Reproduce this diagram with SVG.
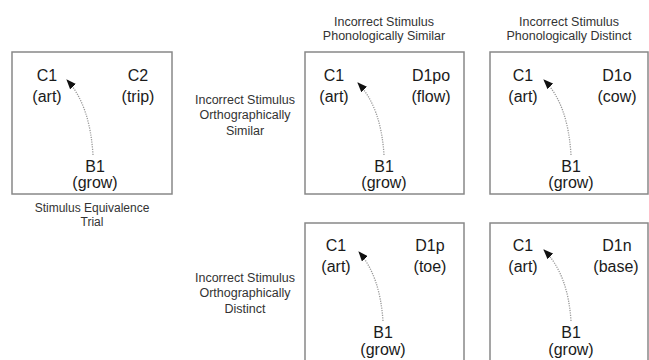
<svg xmlns="http://www.w3.org/2000/svg" width="649" height="360" viewBox="0 0 649 360">
<style>
.box{fill:#fff;stroke:#888;stroke-width:1.5}
.lbl{font-family:"Liberation Sans",Arial,sans-serif;font-size:16px;fill:#1a1a1a;text-anchor:middle}
.cap{font-family:"Liberation Sans",Arial,sans-serif;font-size:12.5px;fill:#333;text-anchor:middle}
.arr{fill:none;stroke:#999;stroke-width:1.3;stroke-dasharray:1.2 1.2}
</style>
<defs>
<marker id="ah" viewBox="0 0 10 8" refX="9" refY="4" markerWidth="10" markerHeight="8" markerUnits="userSpaceOnUse" orient="auto">
<path d="M0,0 L10,4 L0,8 Z" fill="#111"/>
</marker>
</defs>
<rect width="649" height="360" fill="#fff"/>
<g id="captions">
<text class="cap" x="384" y="26">Incorrect Stimulus</text>
<text class="cap" x="384" y="40">Phonologically Similar</text>
<text class="cap" x="569" y="26">Incorrect Stimulus</text>
<text class="cap" x="569" y="40">Phonologically Distinct</text>
<text class="cap" x="245" y="104">Incorrect Stimulus</text>
<text class="cap" x="245" y="119">Orthographically</text>
<text class="cap" x="245" y="135">Similar</text>
<text class="cap" x="245" y="282">Incorrect Stimulus</text>
<text class="cap" x="245" y="297">Orthographically</text>
<text class="cap" x="245" y="313">Distinct</text>
<text class="cap" x="92" y="212" style="font-size:12px">Stimulus Equivalence</text>
<text class="cap" x="92" y="226" style="font-size:12px">Trial</text>
</g>
<g id="trial">
<rect class="box" x="12" y="52" width="160" height="142"/>
<text class="lbl" x="47" y="81">C1</text>
<text class="lbl" x="47" y="102">(art)</text>
<text class="lbl" x="138" y="81">C2</text>
<text class="lbl" x="138" y="102">(trip)</text>
<text class="lbl" x="95" y="172">B1</text>
<text class="lbl" x="95" y="188">(grow)</text>
</g>
<g id="orth-similar-phon-similar">
<rect class="box" x="305" y="52" width="159" height="142"/>
<text class="lbl" x="334" y="81">C1</text>
<text class="lbl" x="334" y="102">(art)</text>
<text class="lbl" x="431" y="81">D1po</text>
<text class="lbl" x="431" y="102">(flow)</text>
<text class="lbl" x="384" y="172">B1</text>
<text class="lbl" x="384" y="188">(grow)</text>
</g>
<g id="orth-similar-phon-distinct">
<rect class="box" x="490" y="52" width="158" height="142"/>
<text class="lbl" x="523" y="81">C1</text>
<text class="lbl" x="523" y="102">(art)</text>
<text class="lbl" x="617" y="81">D1o</text>
<text class="lbl" x="617" y="102">(cow)</text>
<text class="lbl" x="571" y="172">B1</text>
<text class="lbl" x="571" y="188">(grow)</text>
</g>
<g id="orth-distinct-phon-similar">
<rect class="box" x="305" y="223" width="159" height="150"/>
<text class="lbl" x="336" y="251">C1</text>
<text class="lbl" x="336" y="272">(art)</text>
<text class="lbl" x="430" y="251">D1p</text>
<text class="lbl" x="430" y="272">(toe)</text>
<text class="lbl" x="383" y="338">B1</text>
<text class="lbl" x="383" y="355">(grow)</text>
</g>
<g id="orth-distinct-phon-distinct">
<rect class="box" x="490" y="223" width="158" height="150"/>
<text class="lbl" x="523" y="251">C1</text>
<text class="lbl" x="523" y="272">(art)</text>
<text class="lbl" x="617" y="251">D1n</text>
<text class="lbl" x="616" y="272">(base)</text>
<text class="lbl" x="571" y="338">B1</text>
<text class="lbl" x="571" y="355">(grow)</text>
</g>
<g id="connectors">
<path class="arr" d="M93,155 Q90,105 67,80" marker-end="url(#ah)"/>
<path class="arr" d="M384,155 Q381,107 358,83" marker-end="url(#ah)"/>
<path class="arr" d="M571,155 Q568,104 544,80" marker-end="url(#ah)"/>
<path class="arr" d="M383,321 Q380,276 359,252" marker-end="url(#ah)"/>
<path class="arr" d="M571,321 Q568,274 544,250" marker-end="url(#ah)"/>
</g>
</svg>
